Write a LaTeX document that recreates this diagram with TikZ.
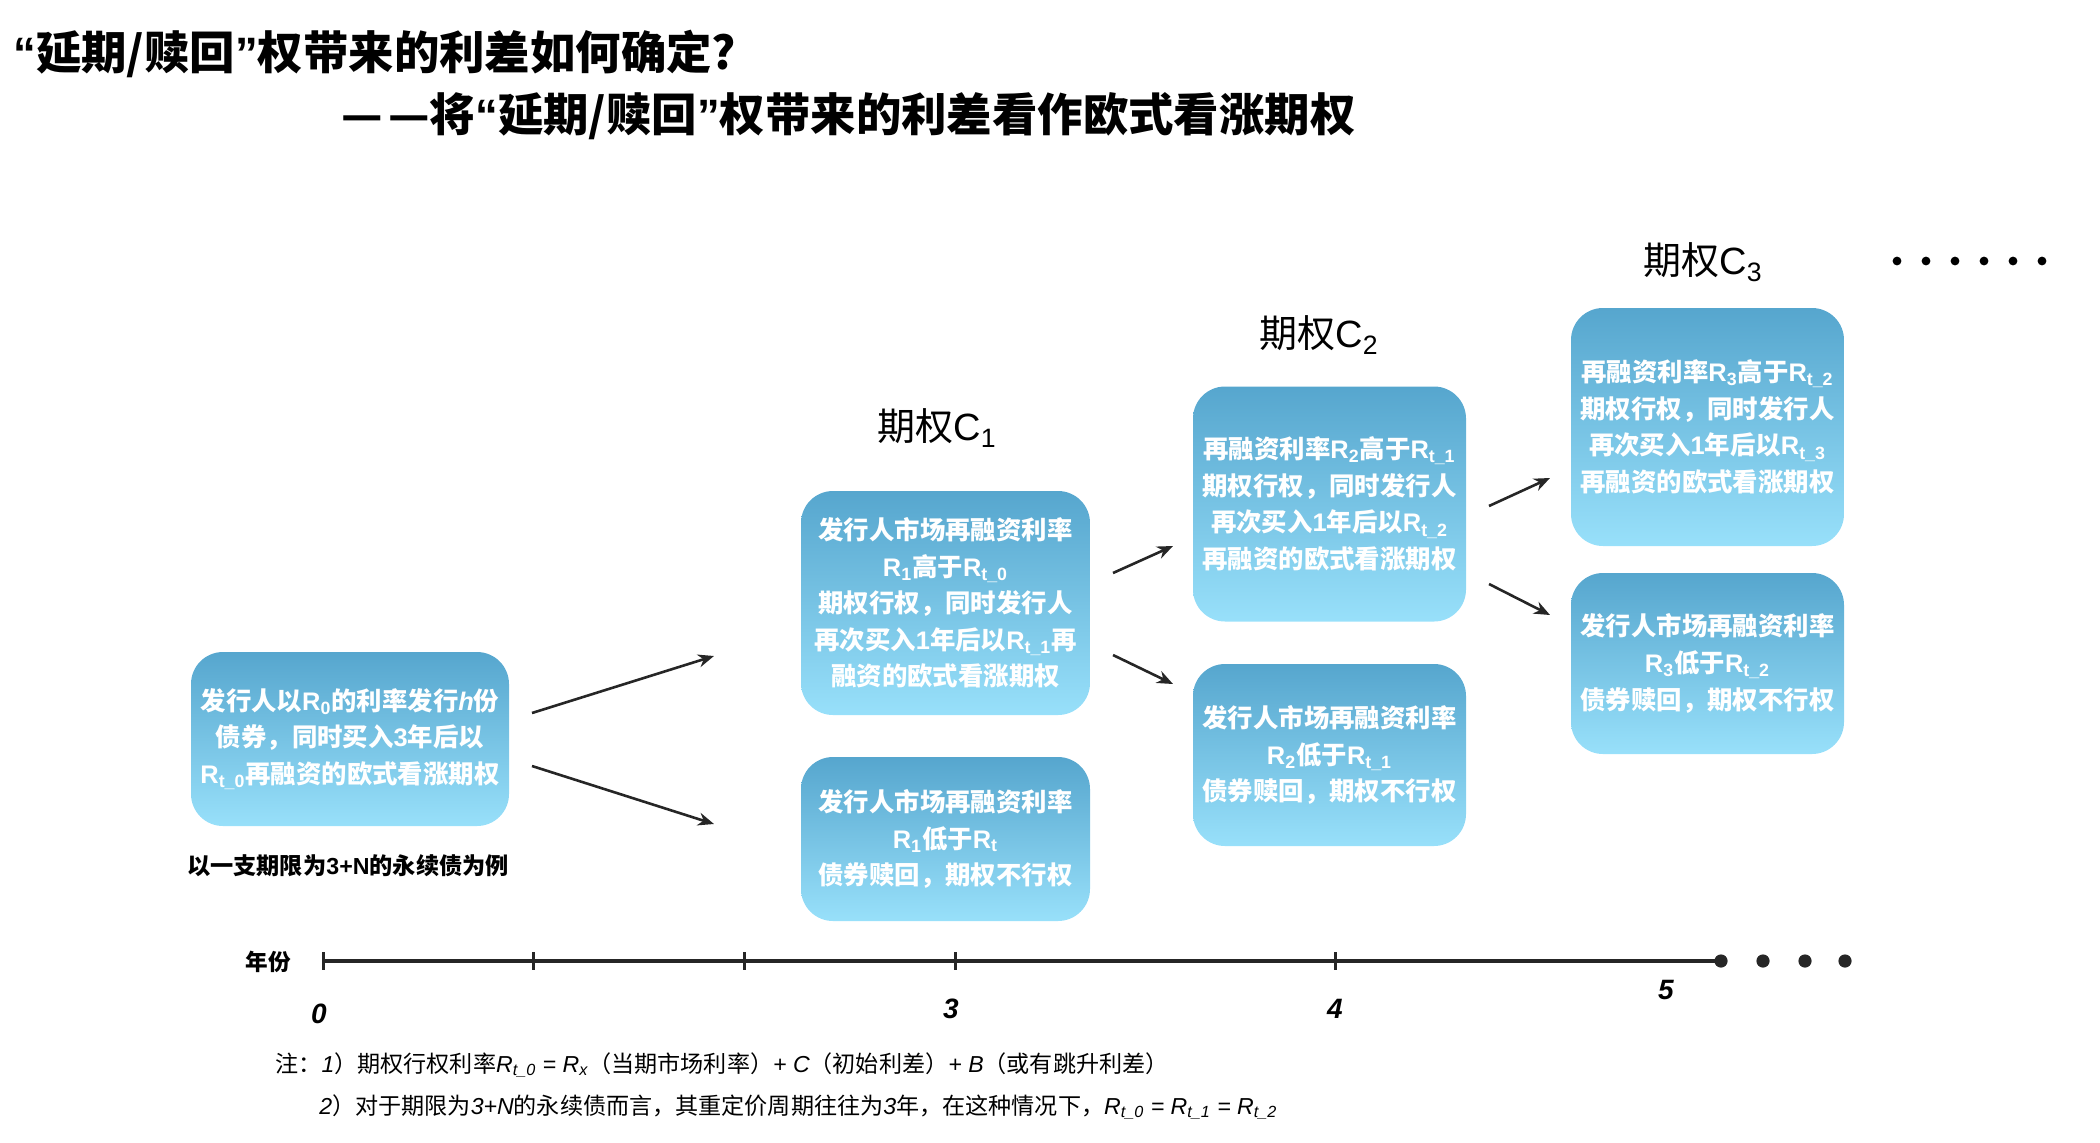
\documentclass[tikz,border=0pt]{standalone}
\usepackage{fontspec}
\setmainfont{Noto Sans CJK SC}
\newfontfamily\lat{Liberation Sans}
\usetikzlibrary{arrows.meta,calc}
\definecolor{boxtop}{RGB}{86,166,206}
\definecolor{boxbot}{RGB}{152,224,250}
\definecolor{ink}{RGB}{38,38,38}
\newcommand\Rsub[1]{{\lat R\textsubscript{#1}}}
\newcommand\myLQ{{\lat “}}
\newcommand\myRQ{{\lat ”}}
\begin{document}
\begin{tikzpicture}[x=0.5pt,y=-0.5pt,
  optbox/.style={rounded corners=16pt, top color=boxtop, bottom color=boxbot,
    draw=none, text=white, align=center, inner sep=0pt,
    font=\fontsize{12.7}{18.3}\selectfont\bfseries},
  arr/.style={draw=ink, line width=1.3pt, -{Stealth[length=8pt,width=6.5pt]}},
  optlabel/.style={font=\fontsize{19}{22}\selectfont, text=black},
  num/.style={font=\lat\fontsize{14}{16}\selectfont\bfseries\itshape},
  note/.style={anchor=west, font=\fontsize{11.55}{13}\selectfont, inner sep=0pt},
  dot/.style={circle, fill=ink, inner sep=0pt, minimum size=6.6pt},
  topdot/.style={circle, fill=black, inner sep=0pt, minimum size=4.4pt},
  tick/.style={draw=ink, line width=1.5pt},
  titlefont/.style={anchor=west, inner sep=0pt, font=\fontsize{22.7}{26}\selectfont\bfseries}]
\useasboundingbox (0,0) rectangle (2100,1142);

% titles
\node[titlefont] (title1) at (13,54) {\myLQ 延期/赎回\myRQ 权带来的利差如何确定?};
\node[titlefont] (title2) at (341,116) {—\kern0.12em—将\myLQ 延期/赎回\myRQ 权带来的利差看作欧式看涨期权};

% boxes
\node[optbox, minimum width=159pt, minimum height=87pt] (b0) at (350,739) {发行人以\Rsub{0}的利率发行{\lat\itshape h}份\\债券，同时买入{\lat 3}年后以\\\Rsub{t\_0}再融资的欧式看涨期权};
\node[anchor=center, inner sep=0pt, font=\fontsize{11.6}{14}\selectfont\bfseries] (example) at (348,866) {以一支期限为{\lat 3+N}的永续债为例};

\node[optbox, minimum width=144.5pt, minimum height=112pt] (b1a) at (945.5,603) {发行人市场再融资利率\\\Rsub{1}高于\Rsub{t\_0}\\期权行权，同时发行人\\再次买入{\lat 1}年后以\Rsub{t\_1}再\\融资的欧式看涨期权};
\node[optbox, minimum width=144.5pt, minimum height=82pt] (b1b) at (945.5,839) {发行人市场再融资利率\\\Rsub{1}低于\Rsub{t}\\债券赎回，期权不行权};

\node[optbox, minimum width=136.5pt, minimum height=117.5pt] (b2a) at (1329.5,504) {再融资利率\Rsub{2}高于\Rsub{t\_1}\\期权行权，同时发行人\\再次买入{\lat 1}年后以\Rsub{t\_2}\\再融资的欧式看涨期权};
\node[optbox, minimum width=136.5pt, minimum height=91pt] (b2b) at (1329.5,755) {发行人市场再融资利率\\\Rsub{2}低于\Rsub{t\_1}\\债券赎回，期权不行权};

\node[optbox, minimum width=136.5pt, minimum height=119pt] (b3a) at (1707.5,427) {再融资利率\Rsub{3}高于\Rsub{t\_2}\\期权行权，同时发行人\\再次买入{\lat 1}年后以\Rsub{t\_3}\\再融资的欧式看涨期权};
\node[optbox, minimum width=136.5pt, minimum height=90.5pt] (b3b) at (1707.5,663.5) {发行人市场再融资利率\\\Rsub{3}低于\Rsub{t\_2}\\债券赎回，期权不行权};

% option labels
\node[optlabel] (c1) at (937,428) {期权{\lat C\textsubscript{1}}};
\node[optlabel] (c2) at (1319,335) {期权{\lat C\textsubscript{2}}};
\node[optlabel] (c3) at (1703,262) {期权{\lat C\textsubscript{3}}};

% top-right dots
\foreach \i in {0,...,5} \node[topdot] (td\i) at (1897+29*\i,261) {};

% arrows
\coordinate (a0s) at (532,713); \coordinate (a0e) at (714,656);
\coordinate (a1s) at (532,766); \coordinate (a1e) at (714,824);
\coordinate (a2s) at (1113,573); \coordinate (a2e) at (1173,546);
\coordinate (a3s) at (1113,655); \coordinate (a3e) at (1173,684);
\coordinate (a4s) at (1489,506); \coordinate (a4e) at (1550,478);
\coordinate (a5s) at (1489,584); \coordinate (a5e) at (1550,615);
\draw[arr] (a0s) -- (a0e);
\draw[arr] (a1s) -- (a1e);
\draw[arr] (a2s) -- (a2e);
\draw[arr] (a3s) -- (a3e);
\draw[arr] (a4s) -- (a4e);
\draw[arr] (a5s) -- (a5e);

% timeline
\coordinate (t0) at (323,961);
\coordinate (t1) at (533,961);
\coordinate (t2) at (744,961);
\coordinate (t3) at (955,961);
\coordinate (t4) at (1335,961);
\coordinate (t5) at (1721,961);
\draw[draw=ink, line width=2pt] (t0) -- (t5);
\foreach \t in {t0,t1,t2,t3,t4} \draw[tick] ($(\t)+(0,-9)$) -- ($(\t)+(0,9)$);
\node[dot] (e0) at (t5) {};
\node[dot] (e1) at (1763,961) {};
\node[dot] (e2) at (1805,961) {};
\node[dot] (e3) at (1845,961) {};
\node[inner sep=0pt, font=\fontsize{11.3}{13}\selectfont\bfseries] (year) at (268,962) {年份};
\node[num] (n0) at (319,1014) {0};
\node[num] (n3) at (951,1009) {3};
\node[num] (n4) at (1335,1009) {4};
\node[num] (n5) at (1666,990) {5};

% notes
\node[note] (note1) at (275,1065) {注：{\lat\itshape 1}）期权行权利率{\lat\itshape R\textsubscript{t\_0} = R\textsubscript{x}}（当期市场利率）{\lat\itshape + C}（初始利差）{\lat\itshape + B}（或有跳升利差）};
\node[note] (note2) at (319,1107) {{\lat\itshape 2}）对于期限为{\lat\itshape 3+N}的永续债而言，其重定价周期往往为{\lat\itshape 3}年，在这种情况下，{\lat\itshape R\textsubscript{t\_0} = R\textsubscript{t\_1} = R\textsubscript{t\_2}}};
\end{tikzpicture}
\end{document}
